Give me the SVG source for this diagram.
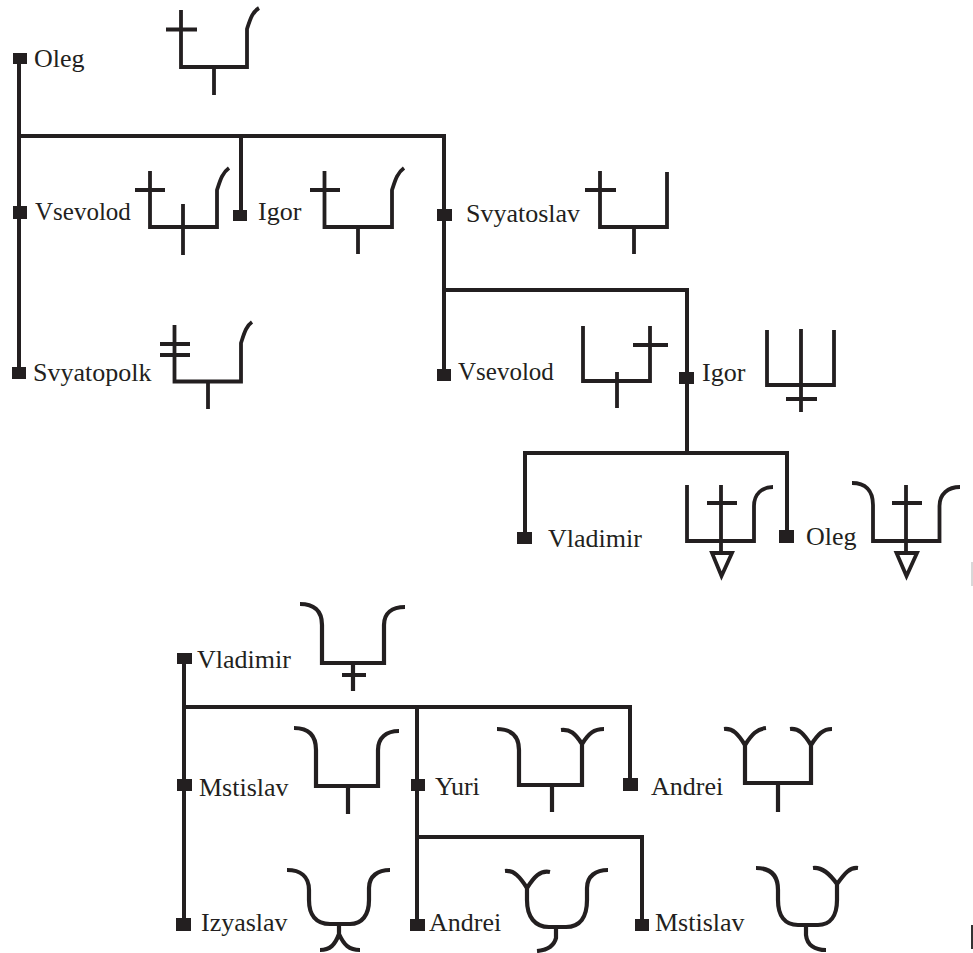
<svg xmlns="http://www.w3.org/2000/svg" width="973" height="953" viewBox="0 0 973 953">
<style>
.c{fill:none;stroke:#231f20;stroke-width:4;stroke-linejoin:miter}
.g{fill:none;stroke:#231f20;stroke-width:3.8;stroke-linejoin:miter}
.h{fill:none;stroke:#231f20;stroke-width:4.2;stroke-linejoin:miter}
.s{fill:#231f20}
text{font-family:"Liberation Serif","Times New Roman",serif;font-size:26px;fill:#231f20}
.n{font-size:25px}
</style>
<rect width="973" height="953" fill="#fff"/>
<g id="connectors">
<path class="c" d="M19 58V373M19 136H444V374M241 136V216M444 290H687V453M525 538V453H787V536"/>
<path class="c" d="M184 658V924M184 707H630V785M417 707V925M417 837H642V925"/>
</g>
<g id="oleg1"><rect class="s" x="13" y="53" width="14" height="11"/><text x="34" y="67">Oleg</text>
<path class="g" d="M181 10V67H247V29C250 20 252 12 259 8M166 29.500H197M214 67V95"/></g>
<g id="vsevolod1"><rect class="s" x="13" y="206" width="14" height="13"/><text class="n" x="35" y="220">Vsevolod</text>
<path class="g" d="M150 171V227H217V190C220 181 222 173 229 168M135 190H165M183 204V255"/></g>
<g id="igor1"><rect class="s" x="233" y="210" width="14" height="11"/><text x="258" y="220">Igor</text>
<path class="g" d="M324.500 171V227H392V190C395 181 397 173 404 168M310 190H340M358 227V254"/></g>
<g id="svyatoslav"><rect class="s" x="437" y="209" width="15" height="12"/><text x="466" y="222">Svyatoslav</text>
<path class="g" d="M600 171V227H667V172M585 190H616M634 227V254"/></g>
<g id="svyatopolk"><rect class="s" x="12" y="367" width="14" height="12"/><text x="33" y="381">Svyatopolk</text>
<path class="g" d="M174.500 325V381.500H241V343C244 334 246 326 252 322M160 344H190M160 355H190M208 381.500V409"/></g>
<g id="vsevolod2"><rect class="s" x="437" y="369" width="14" height="12"/><text class="n" x="458" y="380">Vsevolod</text>
<path class="g" d="M583 326V381H650V326M633 345H668M617 372V408"/></g>
<g id="igor2"><rect class="s" x="679" y="372" width="15" height="12"/><text x="702" y="381">Igor</text>
<path class="g" d="M767 330V385H834V330M801 329V412M786 399H817"/></g>
<g id="vladimir1"><rect class="s" x="517" y="532" width="15" height="12"/><text x="548" y="547">Vladimir</text>
<path class="g" d="M687 485V541H754V506C754 494 762 487 773 487M721 485V553M707 503H737M712 553H732L721.500 576Z"/></g>
<g id="oleg2"><rect class="s" x="779" y="530" width="15" height="13"/><text x="806" y="545">Oleg</text>
<path class="g" d="M852 483C865 483 873 490 873 505V541H939.500V506C939.500 494 948 487 960 487M906 485V553M892 503H922M896.500 553H917L906.500 576Z"/></g>
<g id="vladimir2"><rect class="s" x="177" y="653" width="15" height="11"/><text x="197" y="668">Vladimir</text>
<path class="h" d="M300 604C313 604 322 610 322 625V663H384V625C384 613 392 607 405 607M353 663V691M342 675H366"/></g>
<g id="mstislav1"><rect class="s" x="177" y="779" width="15" height="12"/><text x="199" y="796">Mstislav</text>
<path class="h" d="M294 728C307 728 316 734 316 750V786H378V750C378 738 386 731 399 731M348 786V814"/></g>
<g id="yuri"><rect class="s" x="411" y="779" width="14" height="12"/><text x="435" y="795">Yuri</text>
<path class="h" d="M497 729C510 729 519 735 519 750V785H582V744M561 730C570 729 575 733 582 744C589 733 594 729 604 729M552 785V812"/></g>
<g id="andrei1"><rect class="s" x="623" y="778" width="15" height="13"/><text x="651" y="795">Andrei</text>
<path class="h" d="M745 745V783H811V745M724 729C733 728 738 734 745 745C752 734 757 729 766 728M790 729C799 728 804 734 811 745C818 734 823 729 832 729M778 783V812"/></g>
<g id="izyaslav"><rect class="s" x="176" y="918" width="15" height="13"/><text x="201" y="931">Izyaslav</text>
<path class="h" d="M287 870C300 870 309 876 309 890V900C309 915 316 924 330 924H350C362 924 369 915 369 900V888C369 876 378 870 390 870M339 924V934C335 945 330 950 320 950M339 934C344 945 349 950 360 950"/></g>
<g id="andrei2"><rect class="s" x="410" y="919" width="15" height="12"/><text x="429" y="931">Andrei</text>
<path class="h" d="M527 888V900C527 917 535 927 549 927H566C580 927 587 917 587 900V888C587 876 596 870 608 870M505 871C514 870 520 877 527 888C534 877 540 870 550 872M556 927V938C554 946 548 950 537 951"/></g>
<g id="mstislav2"><rect class="s" x="635" y="919" width="14" height="12"/><text x="655" y="931">Mstislav</text>
<path class="h" d="M756 868C769 868 778 874 778 890V900C778 916 785 925 798 925H818C830 925 837 916 837 900V884M813 868C822 867 829 873 837 884C845 873 850 867 858 868M806 925V935C807 945 815 950 826 950"/></g>
<rect x="971" y="562" width="2" height="24" fill="#d8d8d8"/>
<rect x="971" y="925" width="2" height="24" fill="#333"/>
</svg>
